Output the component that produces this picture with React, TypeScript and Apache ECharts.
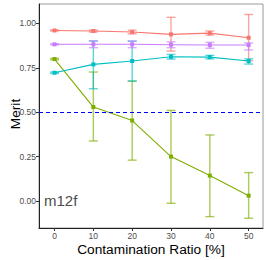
import React, { useEffect, useRef } from "react";
import * as echarts from "echarts";

const ratios = [0, 10, 20, 30, 40, 50];
const xTicks = [0, 10, 20, 30, 40, 50];
const yTicks = [0, 0.25, 0.5, 0.75, 1.0];

const redMean = [0.96, 0.957, 0.951, 0.938, 0.945, 0.919];
const redLo = [0.957, 0.951, 0.941, 0.844, 0.934, 0.79];
const redHi = [0.963, 0.962, 0.962, 1.034, 0.957, 1.05];

const greenMean = [0.799, 0.529, 0.453, 0.25, 0.143, 0.03];
const greenLo = [0.795, 0.338, 0.23, -0.013, -0.088, -0.097];
const greenHi = [0.803, 0.726, 0.675, 0.51, 0.372, 0.16];

const cyanMean = [0.722, 0.769, 0.788, 0.812, 0.81, 0.788];
const cyanLo = [0.718, 0.632, 0.675, 0.799, 0.8, 0.771];
const cyanHi = [0.726, 0.9, 0.9, 0.825, 0.82, 0.8];

const purpleMean = [0.882, 0.882, 0.882, 0.88, 0.878, 0.878];
const purpleLo = [0.879, 0.863, 0.863, 0.863, 0.86, 0.85];
const purpleHi = [0.885, 0.902, 0.9, 0.896, 0.893, 0.89];

const threshold = 0.5;
const panelLabel = "m12f";
const yTitle = "Merit";

const groups = [
  { name: "a", color: "#F8766D", mean: redMean, lo: redLo, hi: redHi },
  { name: "b", color: "#7CAE00", mean: greenMean, lo: greenLo, hi: greenHi },
  { name: "c", color: "#00BFC4", mean: cyanMean, lo: cyanLo, hi: cyanHi },
  { name: "d", color: "#C77CFF", mean: purpleMean, lo: purpleLo, hi: purpleHi },
];

const FONT = "Liberation Sans, Arial, sans-serif";

export default function App() {
  const ref = useRef<HTMLDivElement>(null);
  useEffect(() => {
    if (!ref.current) return;
    const chart = echarts.init(ref.current, null, { renderer: "svg" });
    const series: any[] = [];
    groups.forEach((g) => {
      series.push({
        type: "custom",
        name: g.name + "err",
        data: ratios.map((x, i) => [x, g.lo[i], g.hi[i]]),
        silent: true,
        z: 2,
        renderItem: (params: any, api: any) => {
          const x = api.value(0);
          const lo = api.coord([x, api.value(1)]);
          const hi = api.coord([x, api.value(2)]);
          const w = 4.5;
          const style = { stroke: g.color, lineWidth: 1.4, opacity: 0.65 };
          return {
            type: "group",
            children: [
              { type: "line", shape: { x1: lo[0], y1: lo[1], x2: hi[0], y2: hi[1] }, style },
              { type: "line", shape: { x1: lo[0] - w, y1: lo[1], x2: lo[0] + w, y2: lo[1] }, style },
              { type: "line", shape: { x1: hi[0] - w, y1: hi[1], x2: hi[0] + w, y2: hi[1] }, style },
            ],
          };
        },
      });
      series.push({
        type: "line",
        name: g.name,
        data: ratios.map((x, i) => [x, g.mean[i]]),
        symbol: "rect",
        symbolSize: 4,
        z: 3,
        lineStyle: { color: g.color, width: 1.1 },
        itemStyle: { color: g.color },
      });
    });
    series.push({
      type: "line",
      name: "thr",
      data: [],
      markLine: {
        silent: true,
        symbol: "none",
        label: { show: false },
        lineStyle: { color: "#0000FF", type: [4, 3], width: 1.2 },
        data: [{ yAxis: threshold }],
      },
    });

    chart.setOption({
      animation: false,
      grid: {
        left: 39,
        top: 4,
        right: 3,
        bottom: 32,
        containLabel: false,
        outerBoundsMode: "none",
        show: true,
        borderColor: "#9a9a9a",
        borderWidth: 1,
        backgroundColor: "#fff",
      },
      xAxis: {
        type: "value",
        min: -4,
        max: 53.7,
        name: "Contamination Ratio [%]",
        nameLocation: "middle",
        nameGap: 14,
        nameMoveOverlap: false,
        nameTextStyle: { fontFamily: FONT, fontSize: 13.7, color: "#000" },
        axisLine: { show: true, onZero: false, lineStyle: { color: "#222", width: 1 } },
        axisTick: { show: true, length: 3, customValues: xTicks, lineStyle: { color: "#333" } },
        axisLabel: {
          customValues: xTicks,
          fontFamily: FONT,
          fontSize: 8.5,
          color: "#4D4D4D",
          margin: 3,
        },
        splitLine: { show: false },
      },
      yAxis: {
        type: "value",
        min: -0.152,
        max: 1.109,
        axisLine: { show: true, onZero: false, lineStyle: { color: "#222", width: 1 } },
        axisTick: { show: true, length: 3, customValues: yTicks, lineStyle: { color: "#333" } },
        axisLabel: {
          customValues: yTicks,
          fontFamily: FONT,
          fontSize: 8.5,
          color: "#4D4D4D",
          margin: 3,
          formatter: (v: number) => v.toFixed(2),
        },
        splitLine: { show: false },
      },
      graphic: [
        {
          type: "text",
          left: 44,
          top: 193,
          style: { text: panelLabel, font: `15px ${FONT}`, fill: "#4D4D4D" },
        },
        {
          type: "text",
          x: 15,
          y: 114,
          rotation: Math.PI / 2,
          style: {
            text: yTitle,
            font: `13.7px ${FONT}`,
            fill: "#000",
            align: "center",
            verticalAlign: "middle",
          },
        },
      ],
      series,
    });
    return () => chart.dispose();
  }, []);
  return <div ref={ref} style={{ width: 266, height: 260, position: "absolute", left: 0, top: 0 }} />;
}
